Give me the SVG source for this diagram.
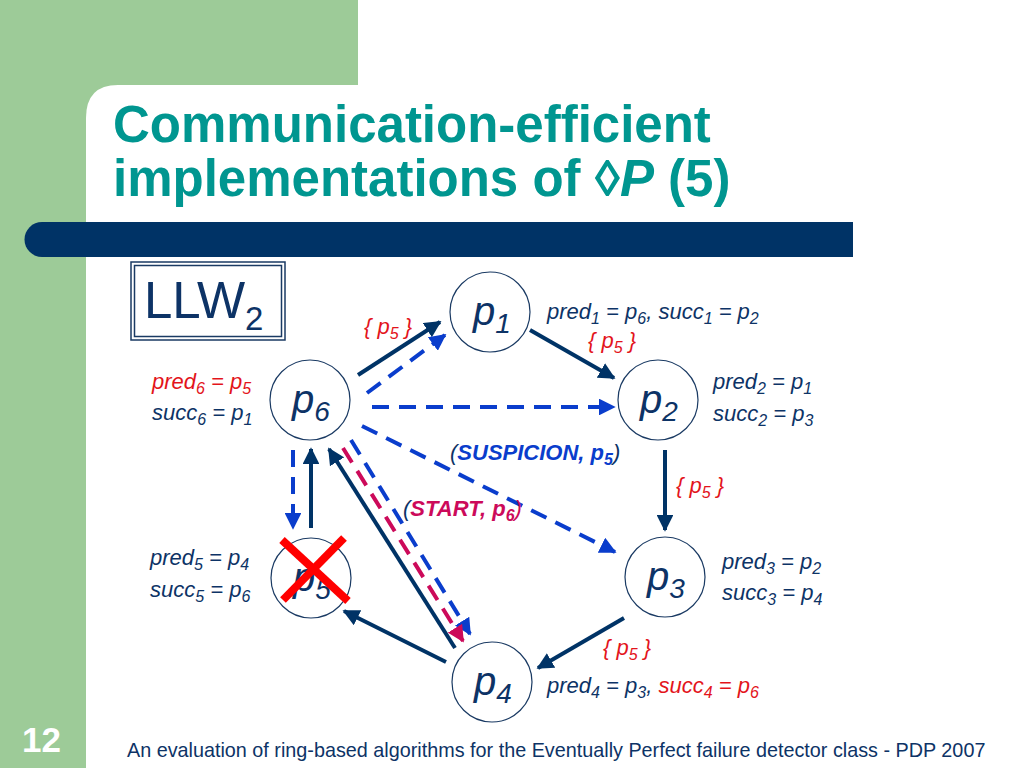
<svg xmlns="http://www.w3.org/2000/svg" width="1024" height="768" viewBox="0 0 1024 768">
<style>
.node{fill:#fff;stroke:#1a3a63;stroke-width:1.2}
.nl{font-family:"Liberation Sans",Arial,sans-serif;font-style:italic;fill:#0d3366;font-size:40px}
.ns{font-family:"Liberation Sans",Arial,sans-serif;font-size:28px;fill:#0d3366}
.lbl{font-family:"Liberation Sans",Arial,sans-serif;font-style:italic;font-size:22px;fill:#0d3366}
.red{fill:#e3141b}
.sub{font-size:16px}
.solid{stroke:#003366;stroke-width:4;fill:none}
.dash{stroke:#0a3dcc;stroke-width:4;fill:none;stroke-dasharray:17 10}
.mag{stroke:#cc0a5a;stroke-width:4;fill:none;stroke-dasharray:17 10}
</style>
<defs>
<marker id="ah" viewBox="0 0 10 10" refX="9" refY="5" markerWidth="4.2" markerHeight="4.2" orient="auto" markerUnits="strokeWidth"><path d="M0,0 L10,5 L0,10 z" fill="#003366"/></marker>
<marker id="ahb" viewBox="0 0 10 10" refX="9" refY="5" markerWidth="4.2" markerHeight="4.2" orient="auto" markerUnits="strokeWidth"><path d="M0,0 L10,5 L0,10 z" fill="#0a3dcc"/></marker>
<marker id="ahm" viewBox="0 0 10 10" refX="9" refY="5" markerWidth="4.2" markerHeight="4.2" orient="auto" markerUnits="strokeWidth"><path d="M0,0 L10,5 L0,10 z" fill="#cc0a5a"/></marker>
</defs>
<g id="background">
<rect x="0" y="0" width="1024" height="768" fill="#fff"/>
<rect x="0" y="0" width="358" height="120" fill="#9dcb98"/>
<rect x="0" y="0" width="86" height="768" fill="#9dcb98"/>
<path d="M86,120 L86,118 Q86,85 118,85 L358,85 L358,120 Z" fill="#fff"/>
<path d="M42,222 L853,222 L853,257 L42,257 A17.5,17.5 0 0 1 42,222 Z" fill="#003366"/>
</g>
<g id="title" font-family="Liberation Sans,Arial,sans-serif" font-weight="bold" font-size="51" fill="#009690">
<text x="113" y="142">Communication-efficient</text>
<text x="113" y="196">implementations of ◊<tspan font-style="italic">P</tspan> (5)</text>
</g>
<g id="llw2">
<rect x="131" y="262" width="154" height="78" fill="none" stroke="#1a3a63" stroke-width="1.5"/>
<rect x="134.5" y="265.5" width="147" height="71" fill="none" stroke="#1a3a63" stroke-width="1.5"/>
<text x="144" y="318" font-family="Liberation Sans,Arial,sans-serif" font-size="51" fill="#0d3366">LLW<tspan font-size="33" dy="12">2</tspan></text>
</g>
<g id="connectors">
<line class="solid" x1="358" y1="375" x2="440" y2="322" marker-end="url(#ah)"/>
<line class="dash" x1="367" y1="393" x2="445" y2="335" marker-end="url(#ahb)"/>
<line class="solid" x1="530" y1="330" x2="614" y2="378" marker-end="url(#ah)"/>
<line class="dash" x1="372" y1="407" x2="614" y2="407" marker-end="url(#ahb)"/>
<line class="dash" x1="362" y1="426" x2="615" y2="552" marker-end="url(#ahb)"/>
<line class="solid" x1="665" y1="450" x2="665" y2="530" marker-end="url(#ah)"/>
<line class="solid" x1="624" y1="618" x2="538" y2="668" marker-end="url(#ah)"/>
<line class="solid" x1="446" y1="662" x2="344" y2="611" marker-end="url(#ah)"/>
<line class="solid" x1="455" y1="648" x2="329" y2="449" marker-end="url(#ah)"/>
<line class="dash" x1="351" y1="440" x2="470" y2="634" marker-end="url(#ahb)"/>
<line class="mag" x1="343" y1="448" x2="463" y2="641" marker-end="url(#ahm)"/>
<line class="dash" x1="293" y1="450" x2="293" y2="528" marker-end="url(#ahb)"/>
<line class="solid" x1="311" y1="528" x2="311" y2="449" marker-end="url(#ah)"/>
</g>
<g id="p1"><circle class="node" cx="490" cy="312" r="40"/><text class="nl" x="473" y="325">p<tspan class="ns" dy="8">1</tspan></text></g>
<g id="p2"><circle class="node" cx="658" cy="400" r="40"/><text class="nl" x="640" y="413">p<tspan class="ns" dy="8">2</tspan></text></g>
<g id="p3"><circle class="node" cx="665" cy="577" r="40"/><text class="nl" x="647" y="590">p<tspan class="ns" dy="8">3</tspan></text></g>
<g id="p4"><circle class="node" cx="492" cy="682" r="40"/><text class="nl" x="474" y="695">p<tspan class="ns" dy="8">4</tspan></text></g>
<g id="p5"><circle class="node" cx="311" cy="578" r="40"/><text class="nl" x="293" y="591">p<tspan class="ns" dy="8">5</tspan></text>
<line x1="282" y1="540" x2="348" y2="601" stroke="#ff0000" stroke-width="8"/>
<line x1="344" y1="538" x2="283" y2="600" stroke="#ff0000" stroke-width="8"/></g>
<g id="p6"><circle class="node" cx="310" cy="400" r="40"/><text class="nl" x="292" y="413">p<tspan class="ns" dy="8">6</tspan></text></g>
<g id="labels">
<text class="lbl red" x="364" y="334">{ p<tspan class="sub" dy="5">5</tspan><tspan dy="-5"> }</tspan></text>
<text class="lbl" x="547" y="319">pred<tspan class="sub" dy="5">1</tspan><tspan dy="-5"> = p</tspan><tspan class="sub" dy="5">6</tspan><tspan dy="-5">, succ</tspan><tspan class="sub" dy="5">1</tspan><tspan dy="-5"> = p</tspan><tspan class="sub" dy="5">2</tspan></text>
<text class="lbl red" x="588" y="348">{ p<tspan class="sub" dy="5">5</tspan><tspan dy="-5"> }</tspan></text>
<text class="lbl" x="713" y="389">pred<tspan class="sub" dy="5">2</tspan><tspan dy="-5"> = p</tspan><tspan class="sub" dy="5">1</tspan></text>
<text class="lbl" x="713" y="421">succ<tspan class="sub" dy="5">2</tspan><tspan dy="-5"> = p</tspan><tspan class="sub" dy="5">3</tspan></text>
<text class="lbl red" x="152" y="389">pred<tspan class="sub" dy="5">6</tspan><tspan dy="-5"> = p</tspan><tspan class="sub" dy="5">5</tspan></text>
<text class="lbl" x="152" y="420">succ<tspan class="sub" dy="5">6</tspan><tspan dy="-5"> = p</tspan><tspan class="sub" dy="5">1</tspan></text>
<text class="lbl" x="450" y="460" font-style="normal" fill="#0d3366">(<tspan font-style="italic" font-weight="bold" fill="#0a3dcc">SUSPICION, p</tspan><tspan font-style="italic" font-weight="bold" fill="#0a3dcc" class="sub" dy="5">5</tspan><tspan dy="-5">)</tspan></text>
<text class="lbl red" x="676" y="493">{ p<tspan class="sub" dy="5">5</tspan><tspan dy="-5"> }</tspan></text>
<text class="lbl" x="403" y="516" font-style="normal" fill="#0d3366">(<tspan font-style="italic" font-weight="bold" fill="#cc0a5a">START, p</tspan><tspan font-style="italic" font-weight="bold" fill="#cc0a5a" class="sub" dy="5">6</tspan><tspan dy="-5" fill="#cc0a5a">)</tspan></text>
<text class="lbl" x="150" y="565">pred<tspan class="sub" dy="5">5</tspan><tspan dy="-5"> = p</tspan><tspan class="sub" dy="5">4</tspan></text>
<text class="lbl" x="150" y="597">succ<tspan class="sub" dy="5">5</tspan><tspan dy="-5"> = p</tspan><tspan class="sub" dy="5">6</tspan></text>
<text class="lbl" x="722" y="569">pred<tspan class="sub" dy="5">3</tspan><tspan dy="-5"> = p</tspan><tspan class="sub" dy="5">2</tspan></text>
<text class="lbl" x="722" y="600">succ<tspan class="sub" dy="5">3</tspan><tspan dy="-5"> = p</tspan><tspan class="sub" dy="5">4</tspan></text>
<text class="lbl red" x="603" y="655">{ p<tspan class="sub" dy="5">5</tspan><tspan dy="-5"> }</tspan></text>
<text class="lbl" x="547" y="693">pred<tspan class="sub" dy="5">4</tspan><tspan dy="-5"> = p</tspan><tspan class="sub" dy="5">3</tspan><tspan dy="-5">, </tspan><tspan class="red">succ</tspan><tspan class="red sub" dy="5">4</tspan><tspan class="red" dy="-5"> = p</tspan><tspan class="red sub" dy="5">6</tspan></text>
</g>
<g id="footer">
<text x="22" y="752" font-family="Liberation Sans,Arial,sans-serif" font-weight="bold" font-size="35" fill="#fff">12</text>
<text x="127" y="757" font-family="Liberation Sans,Arial,sans-serif" font-size="19.8" fill="#0d3366">An evaluation of ring-based algorithms for the Eventually Perfect failure detector class - PDP 2007</text>
</g>
</svg>
